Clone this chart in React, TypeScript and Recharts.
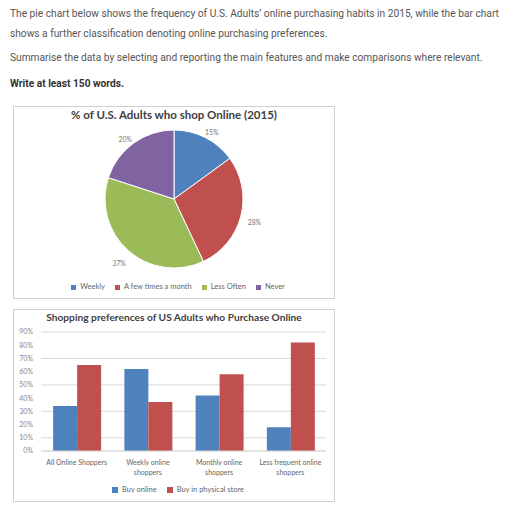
import { PieChart, Pie, Cell, BarChart, Bar, XAxis, YAxis, CartesianGrid, Legend } from 'recharts';

const freqLabels = ['Weekly', 'A few times a month', 'Less Often', 'Never'];
const freqValues = [15, 28, 37, 20];
const freqColors = ['#4F81BD', '#C0504D', '#9BBB59', '#8064A2'];

const shopperGroups = [
  'All Online Shoppers',
  'Weekly online\nshoppers',
  'Monthly online\nshoppers',
  'Less frequent online\nshoppers',
];
const buyOnline = [34, 62, 42, 18];
const buyStore = [65, 37, 58, 82];
const yTicks = [0, 10, 20, 30, 40, 50, 60, 70, 80, 90];

const pieData = freqLabels.map((name, i) => ({ name, value: freqValues[i] }));
const barData = shopperGroups.map((group, i) => ({
  group,
  online: buyOnline[i],
  store: buyStore[i],
}));

const chartFont = 'Lato, "Open Sans", sans-serif';
const RAD = Math.PI / 180;

// outside labels, upper ones nudged down a bit like Excel's best fit
function PieLabel({ cx, cy, midAngle, outerRadius, value }: any) {
  const r = outerRadius + 14;
  const sin = Math.sin(-midAngle * RAD);
  const x = cx + r * Math.cos(-midAngle * RAD);
  const y = cy + r * sin + (sin < 0 ? 7 : 2);
  return (
    <text x={x} y={y} fill="#777" fontSize={6.8} textAnchor="middle" dominantBaseline="central">
      {value}%
    </text>
  );
}

function GroupTick({ x, y, payload }: any) {
  const lines = String(payload.value).split('\n');
  return (
    <text x={x} y={y + 6} fill="#666" fontSize={7} textAnchor="middle">
      {lines.map((line, i) => (
        <tspan key={i} x={x} dy={i === 0 ? 0 : 10}>
          {line}
        </tspan>
      ))}
    </text>
  );
}

const boxStyle: React.CSSProperties = {
  position: 'absolute',
  left: 13,
  width: 320,
  height: 191,
  border: '1px solid #cfcfcf',
  background: '#fff',
  fontFamily: chartFont,
};

const titleStyle: React.CSSProperties = {
  position: 'absolute',
  left: 0,
  width: 320,
  textAlign: 'center',
  fontWeight: 700,
  color: '#404040',
  whiteSpace: 'nowrap',
};

const para: React.CSSProperties = {
  position: 'absolute',
  left: 10,
  margin: 0,
  fontSize: 10.2,
  lineHeight: '20px',
  color: '#555',
  whiteSpace: 'nowrap',
};

export default function App() {
  return (
    <div
      style={{
        position: 'absolute',
        left: 0,
        top: 0,
        width: 512,
        height: 509,
        background: '#fff',
        fontFamily: 'Roboto, sans-serif',
        overflow: 'hidden',
      }}
    >
      <p style={{ ...para, top: 4 }}>
        The pie chart below shows the frequency of U.S. Adults’ online purchasing habits in 2015, while the bar chart
        <br />
        shows a further classification denoting online purchasing preferences.
      </p>
      <p style={{ ...para, top: 48 }}>
        Summarise the data by selecting and reporting the main features and make comparisons where relevant.
      </p>
      <p style={{ ...para, top: 74, fontWeight: 700, color: '#333' }}>Write at least 150 words.</p>

      <div style={{ ...boxStyle, top: 106 }}>
        <div style={{ ...titleStyle, top: 1, fontSize: 11.5 }}>% of U.S. Adults who shop Online (2015)</div>
        <PieChart width={320} height={191} margin={{ top: 0, right: 0, bottom: 0, left: 0 }}>
          <Pie
            data={pieData}
            dataKey="value"
            nameKey="name"
            cx={160}
            cy={92}
            outerRadius={69}
            startAngle={90}
            endAngle={-270}
            stroke="#fff"
            strokeWidth={1}
            label={PieLabel}
            labelLine={false}
            isAnimationActive={false}
          >
            {pieData.map((d, i) => (
              <Cell key={d.name} fill={freqColors[i]} />
            ))}
          </Pie>
          <Legend
            verticalAlign="bottom"
            align="center"
            iconType="square"
            iconSize={5}
            height={12}
            itemSorter={(item: any) => freqLabels.indexOf(item.value)}
            wrapperStyle={{ bottom: 5, fontSize: 7.5, lineHeight: '12px', paddingLeft: 18, boxSizing: 'border-box' }}
            formatter={(v: string) => <span style={{ color: '#666' }}>{v}</span>}
          />
        </PieChart>
      </div>

      <div style={{ ...boxStyle, top: 309 }}>
        <div style={{ ...titleStyle, top: 1, fontSize: 10.2 }}>Shopping preferences of US Adults who Purchase Online</div>
        <BarChart
          width={320}
          height={191}
          data={barData}
          margin={{ top: 22, right: 8, bottom: 4, left: 0 }}
          barCategoryGap="17%"
          barGap={0}
        >
          <CartesianGrid vertical={false} stroke="#d9d9d9" />
          <XAxis
            dataKey="group"
            interval={0}
            tickLine={false}
            axisLine={{ stroke: '#d9d9d9' }}
            height={32}
            tick={<GroupTick />}
          />
          <YAxis
            width={27}
            domain={[0, 90]}
            ticks={yTicks}
            tickFormatter={(v: number) => `${v}%`}
            axisLine={false}
            tickLine={false}
            tick={{ fontSize: 7, fill: '#888' }}
          />
          <Legend
            verticalAlign="bottom"
            align="center"
            iconType="square"
            iconSize={6}
            height={14}
            itemSorter="dataKey"
            wrapperStyle={{ fontSize: 7.5, lineHeight: '14px', paddingLeft: 26, boxSizing: 'border-box' }}
            formatter={(v: string) => <span style={{ color: '#666' }}>{v}</span>}
          />
          <Bar dataKey="online" name="Buy online" fill="#4F81BD" isAnimationActive={false} />
          <Bar dataKey="store" name="Buy in physical store" fill="#C0504D" isAnimationActive={false} />
        </BarChart>
      </div>
    </div>
  );
}
